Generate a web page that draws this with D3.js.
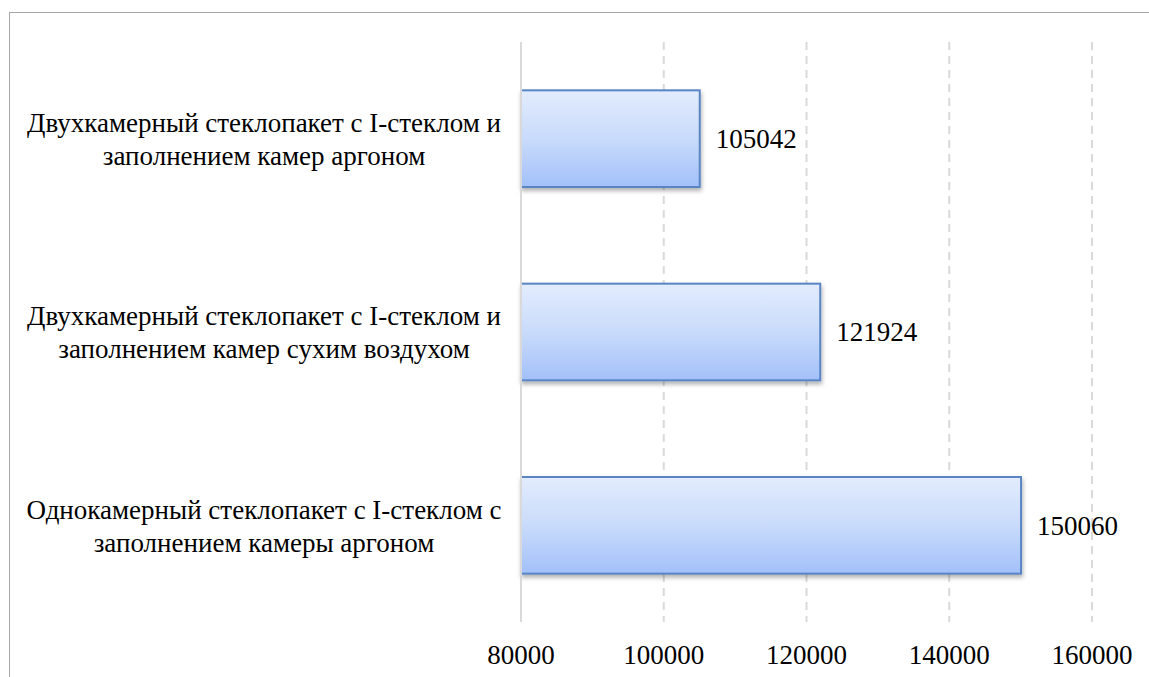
<!DOCTYPE html>
<html>
<head>
<meta charset="utf-8">
<script src="https://cdn.jsdelivr.net/npm/d3@7"></script>
<style>
  body { margin: 0; background: #fff; }
</style>
</head>
<body>
<div id="chart"></div>
<script>
// Categories (top to bottom) and their values
var categories = [
  "Двухкамерный стеклопакет с I-стеклом и|заполнением камер аргоном",
  "Двухкамерный стеклопакет с I-стеклом и|заполнением камер сухим воздухом",
  "Однокамерный стеклопакет с I-стеклом с|заполнением камеры аргоном"
];
var values = [105042, 121924, 150060];
var tickValues = [80000, 100000, 120000, 140000, 160000];

var width = 1149;
var height = 677;
var plotLeft = 521, plotRight = 1092, plotTop = 42, plotBottom = 622;
var fontSize = "27px";

var svg = d3.select("#chart")
  .append("svg")
  .attr("width", width)
  .attr("height", height)
  .style("font-family", "'Liberation Serif', 'Times New Roman', serif");

var defs = svg.append("defs");

// Bar fill gradient, light at top to blue at bottom
var grad = defs.append("linearGradient")
  .attr("id", "barGrad")
  .attr("x1", 0).attr("y1", 0).attr("x2", 0).attr("y2", 1);
grad.append("stop").attr("offset", "0%").attr("stop-color", "#e2ecfd");
grad.append("stop").attr("offset", "50%").attr("stop-color", "#c9dbfb");
grad.append("stop").attr("offset", "100%").attr("stop-color", "#a2c0f9");

var shadow = defs.append("filter")
  .attr("id", "shadow")
  .attr("x", "-5%").attr("y", "-5%").attr("width", "115%").attr("height", "130%");
shadow.append("feDropShadow")
  .attr("dx", 1).attr("dy", 3)
  .attr("stdDeviation", 2)
  .attr("flood-color", "#000")
  .attr("flood-opacity", 0.3);

// Outer frame
svg.append("rect")
  .attr("x", 9.5).attr("y", 12.5)
  .attr("width", width).attr("height", height)
  .attr("fill", "none")
  .attr("stroke", "#a6a6a6")
  .attr("stroke-width", 1);

var x = d3.scaleLinear()
  .domain([80000, 160000])
  .range([plotLeft, plotRight]);

var y = d3.scaleBand()
  .domain(categories)
  .range([plotTop, plotBottom])
  .paddingInner(0.5)
  .paddingOuter(0.25);

// Gridlines
svg.append("g")
  .selectAll("line")
  .data(tickValues.slice(1))
  .enter()
  .append("line")
  .attr("x1", function(d) { return x(d); })
  .attr("x2", function(d) { return x(d); })
  .attr("y1", plotTop)
  .attr("y2", plotBottom)
  .attr("stroke", "#d9d9d9")
  .attr("stroke-width", 2)
  .attr("stroke-dasharray", "8,6");

// Bars
svg.append("g")
  .selectAll("rect")
  .data(values)
  .enter()
  .append("rect")
  .attr("x", x(80000))
  .attr("y", function(d, i) { return y(categories[i]); })
  .attr("width", function(d) { return x(d) - x(80000); })
  .attr("height", y.bandwidth())
  .attr("fill", "url(#barGrad)")
  .attr("stroke", "#5a85c4")
  .attr("stroke-width", 2)
  .attr("filter", "url(#shadow)");

// Vertical axis line
svg.append("line")
  .attr("x1", x(80000)).attr("x2", x(80000))
  .attr("y1", plotTop).attr("y2", plotBottom)
  .attr("stroke", "#d9d9d9")
  .attr("stroke-width", 2);

// Value labels
svg.append("g")
  .selectAll("text")
  .data(values)
  .enter()
  .append("text")
  .attr("x", function(d) { return x(d) + 16; })
  .attr("y", function(d, i) { return y(categories[i]) + y.bandwidth() / 2; })
  .attr("dy", "0.35em")
  .style("font-size", fontSize)
  .text(function(d) { return d; });

// Category labels (two lines, centred)
var catLabels = svg.append("g")
  .selectAll("text")
  .data(categories)
  .enter()
  .append("text")
  .attr("text-anchor", "middle")
  .attr("y", function(d) { return y(d) + y.bandwidth() / 2; })
  .style("font-size", fontSize);

catLabels.selectAll("tspan")
  .data(function(d) { return d.split("|"); })
  .enter()
  .append("tspan")
  .attr("x", 264)
  .attr("dy", function(d, i) { return i === 0 ? "-0.25em" : "1.22em"; })
  .text(function(d) { return d; });

// X tick labels
svg.append("g")
  .selectAll("text")
  .data(tickValues)
  .enter()
  .append("text")
  .attr("x", function(d) { return x(d); })
  .attr("y", 655)
  .attr("dy", "0.35em")
  .attr("text-anchor", "middle")
  .style("font-size", fontSize)
  .text(function(d) { return d; });
</script>
</body>
</html>
